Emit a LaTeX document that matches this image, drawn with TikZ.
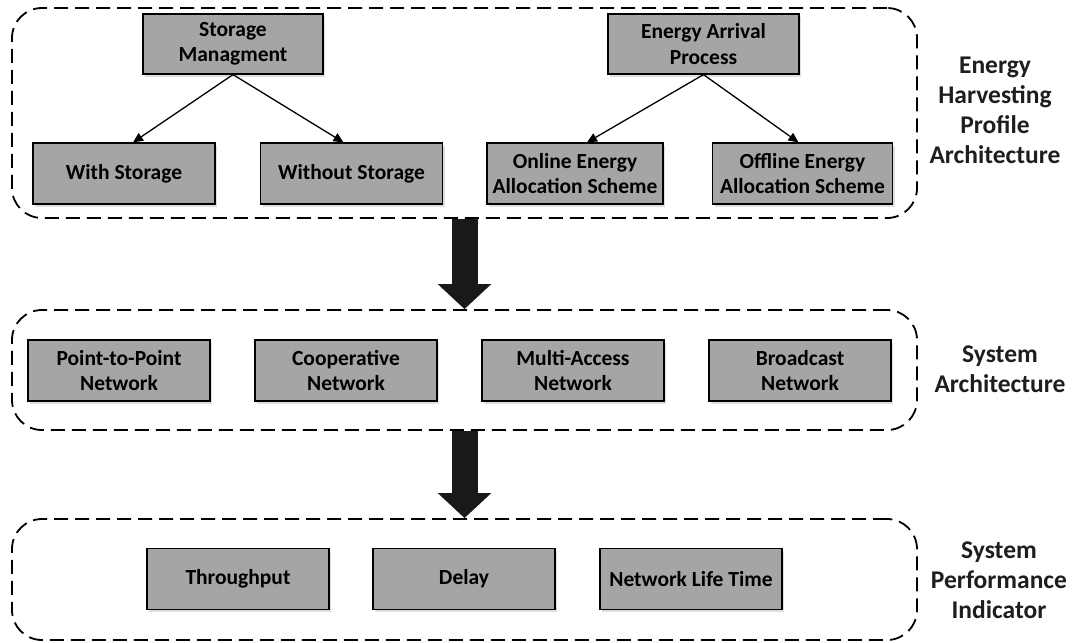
\documentclass[tikz,border=0pt]{standalone}
\usepackage{fontspec}
\setmainfont{Carlito}
\usetikzlibrary{arrows.meta,shadows,calc}
\definecolor{boxgray}{RGB}{165,165,165}
\definecolor{labelink}{RGB}{30,30,30}
\begin{document}
\begin{tikzpicture}[x=1pt,y=-1pt,
  box/.style={draw=black, line width=1.2pt, fill=boxgray, align=center,
    font=\fontsize{21.5}{25.5}\selectfont\bfseries, inner sep=0pt,
    minimum width=182pt, minimum height=61pt,
    drop shadow={shadow xshift=2pt, shadow yshift=-2.5pt, opacity=0.25}},
  container/.style={draw=black, dash pattern=on 14pt off 7pt, line width=1.8pt,
    rounded corners=30pt, minimum width=905pt, inner sep=0pt},
  side/.style={align=center, text=labelink,
    font=\fontsize{25.5}{30}\selectfont\bfseries},
  link/.style={draw=black, line width=1.3pt, -{Triangle[length=10pt,width=9pt]}},
  bigarrow/.style={draw=black!90, line width=26pt, -{Triangle[length=25pt,width=52pt]}, black!90}
]
\useasboundingbox (0,0) rectangle (1072,643);

% containers
\node[container, minimum height=210pt] (top) at (464.5,113) {};
\node[container, minimum height=120pt] (mid) at (464.5,370) {};
\node[container, minimum height=121pt] (bot) at (464.5,579.5) {};

% top row
\node[box, minimum width=180pt, minimum height=60pt] (sm) at (233,44) {Storage\\Managment};
\node[box, minimum width=191pt, minimum height=60pt] (eap) at (703.5,44) {Energy Arrival\\Process};
\node[box] (ws) at (124,173.5) {With Storage};
\node[box] (wos) at (351.5,173.5) {Without Storage};
\node[box, minimum width=176pt] (on) at (575,173.5) {Online Energy\\Allocation Scheme};
\node[box, minimum width=180pt] (off) at (802.5,173.5) {Offline Energy\\Allocation Scheme};

\draw[link] (sm.south) -- ([xshift=9pt]ws.north);
\draw[link] (sm.south) -- ([xshift=-8pt]wos.north);
\draw[link] (eap.south) -- ([xshift=12pt]on.north);
\draw[link] (eap.south) -- ([xshift=-4pt]off.north);

% middle row
\node[box] (p2p) at (119,370.5) {Point-to-Point\\Network};
\node[box] (coop) at (346,370.5) {Cooperative\\Network};
\node[box] (ma) at (573,370.5) {Multi-Access\\Network};
\node[box] (bc) at (800,370.5) {Broadcast\\Network};

% bottom row
\node[box] (tp) at (238,579) {Throughput};
\node[box] (dl) at (464,579) {Delay};
\node[box] (nlt) at (691,579) {Network Life Time};

% big arrows
\draw[bigarrow] (top.south) -- (mid.north);
\draw[bigarrow] (mid.south) -- (bot.north);

% side labels
\node[side] (l1) at (995,110) {Energy\\Harvesting\\Profile\\Architecture};
\node[side] (l2) at (1000,369) {System\\Architecture};
\node[side] (l3) at (999,580) {System\\Performance\\Indicator};
\end{tikzpicture}
\end{document}
